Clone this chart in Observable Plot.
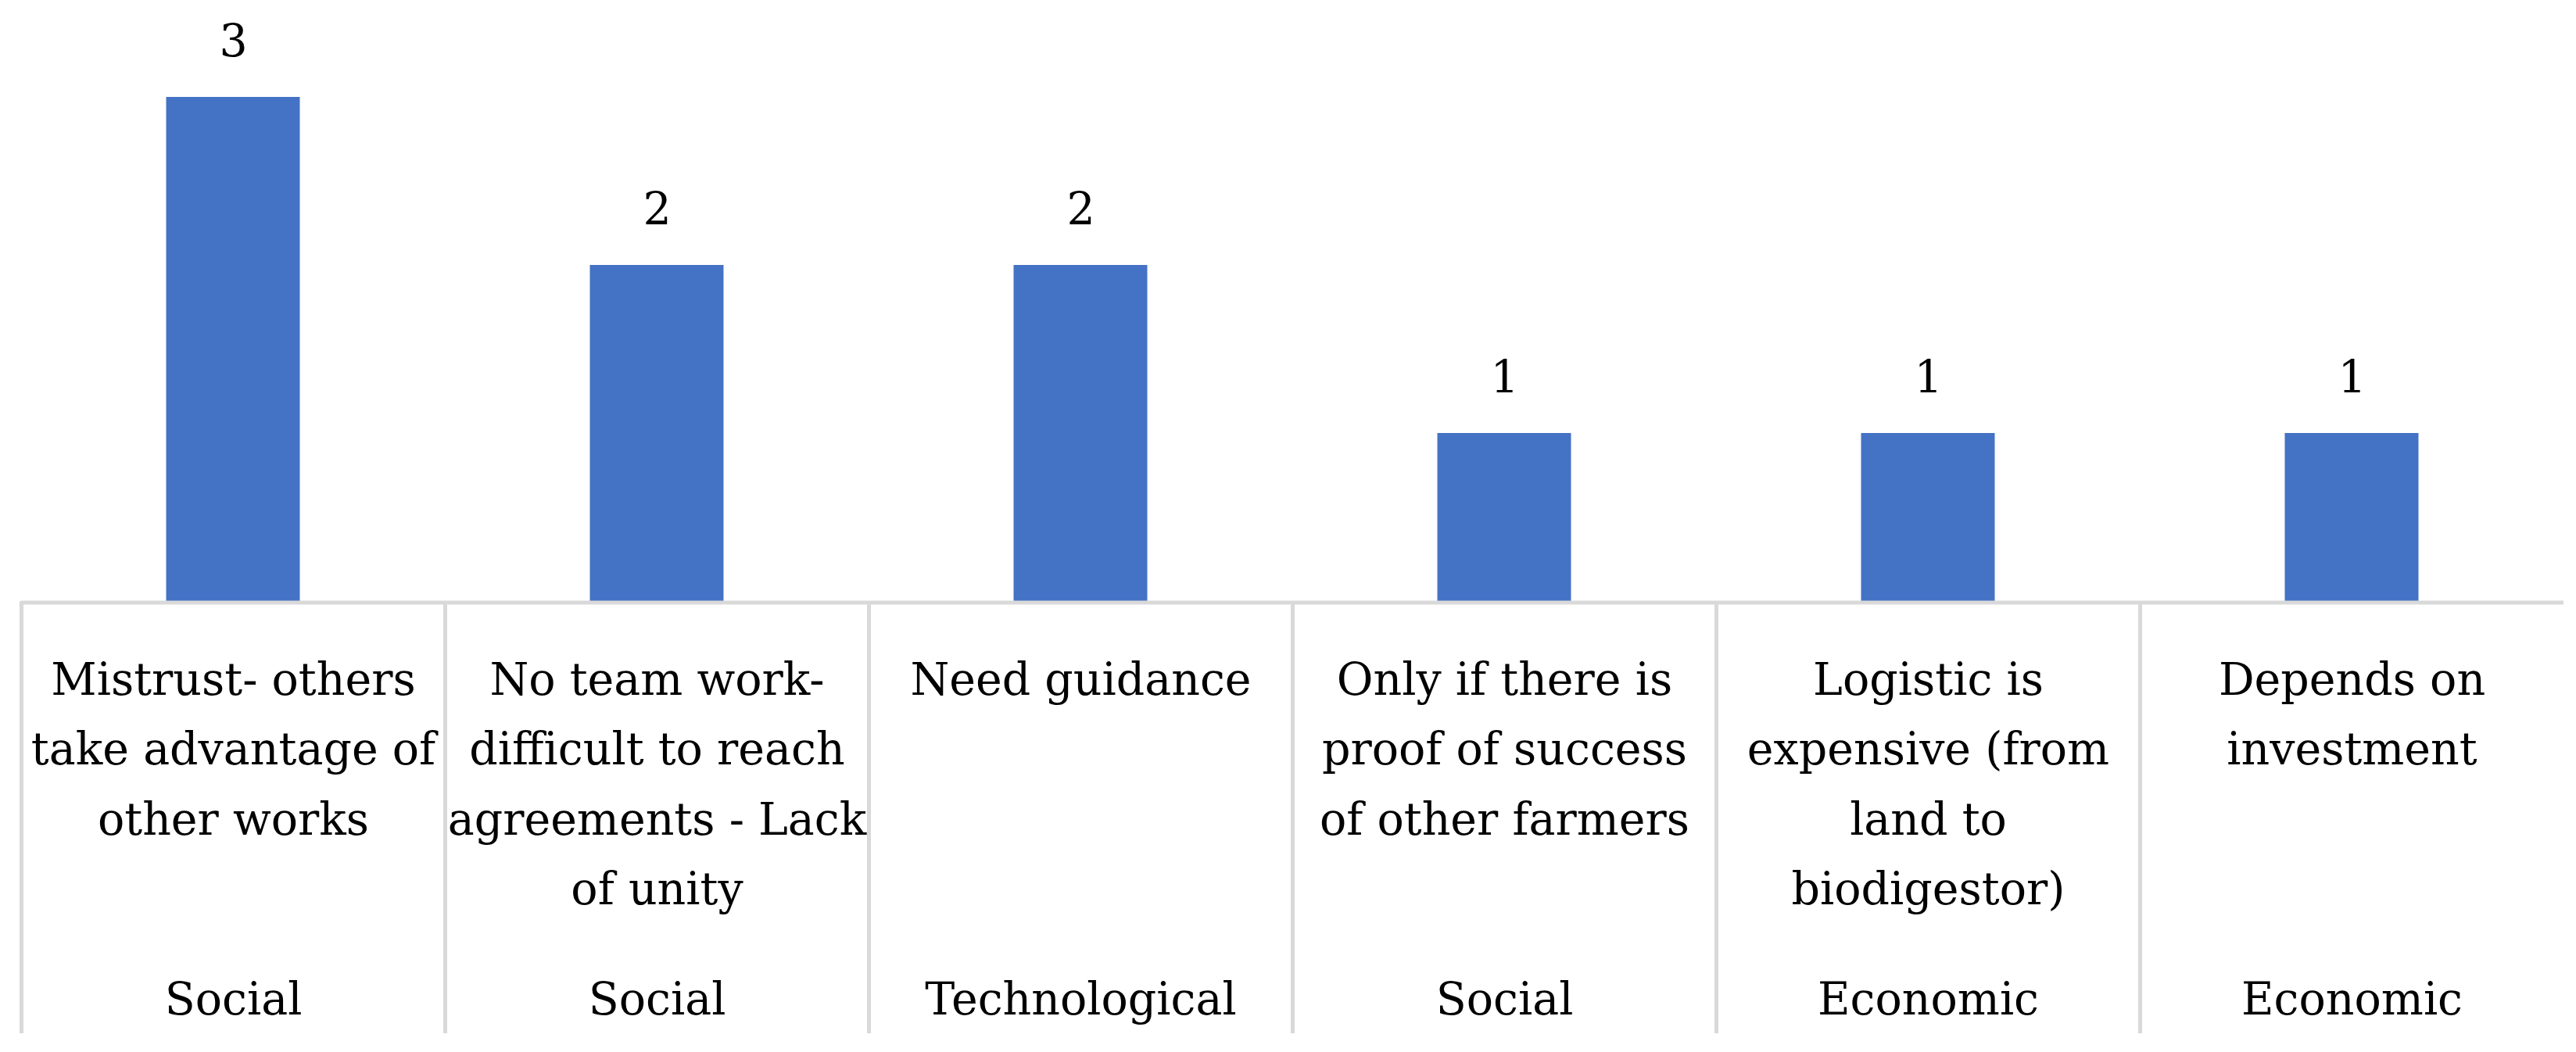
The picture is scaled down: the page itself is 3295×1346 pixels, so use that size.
<!DOCTYPE html>
<html>
<head>
<meta charset="utf-8">
<script src="https://cdn.jsdelivr.net/npm/d3@7"></script>
<script src="https://cdn.jsdelivr.net/npm/@observablehq/plot@0.6"></script>
<style>
  html, body { margin: 0; padding: 0; background: #ffffff; }
  svg { display: block; }
</style>
</head>
<body>
<div id="chart"></div>
<script>
// Categories (reasons), with the line breaks used in the picture
const categories = [
  "Mistrust- others\ntake advantage of\nother works",
  "No team work-\ndifficult to reach\nagreements - Lack\nof unity",
  "Need guidance",
  "Only if there is\nproof of success\nof other farmers",
  "Logistic is\nexpensive (from\nland to\nbiodigestor)",
  "Depends on\ninvestment"
];
// Counts
const counts = [3, 2, 2, 1, 1, 1];
// Outer category level
const dimensions = ["Social", "Social", "Technological", "Social", "Economic", "Economic"];

const data = categories.map((c, i) => ({category: c, count: counts[i], dimension: dimensions[i]}));

const W = 3295, H = 1346;
const mL = 27, mR = 16;
const band = (W - mL - mR) / categories.length;
const barW = 171;
const gridColor = "#d9d9d9";
const font = "DejaVu Serif";

const chart = Plot.plot({
  width: W,
  height: H,
  marginLeft: mL,
  marginRight: mR,
  marginTop: 0,
  marginBottom: 0,
  x: {domain: categories, padding: 0, axis: null},
  y: {domain: [0, 3], range: [769, 124], axis: null},
  style: {fontFamily: font, fontSize: "57px", background: "#ffffff", color: "#000000"},
  marks: [
    // category separators of the multi-level axis
    Plot.ruleX(data, {
      x: "category", y1: () => 0, y2: () => 0,
      dx: -band / 2, insetBottom: -553,
      stroke: gridColor, strokeWidth: 5
    }),
    // bars
    Plot.barY(data, {
      x: "category", y: "count",
      fill: "#4472C4",
      insetLeft: (band - barW) / 2, insetRight: (band - barW) / 2
    }),
    // baseline
    Plot.ruleY([0], {stroke: gridColor, strokeWidth: 5, dy: 1.5}),
    // value labels
    Plot.text(data, {
      x: "category", y: "count", text: d => String(d.count),
      dy: -71, lineAnchor: "middle", fill: "#000000",
      fontFamily: font, fontSize: 57
    }),
    // category labels
    Plot.text(data, {
      x: "category", y: () => 0, text: "category",
      lineAnchor: "top", lineHeight: 1.57, dy: 55.5,
      fill: "#000000", fontFamily: font, fontSize: 57
    }),
    // outer level labels
    Plot.text(data, {
      x: "category", y: () => 0, text: "dimension",
      lineAnchor: "middle", dy: 510,
      fill: "#000000", fontFamily: font, fontSize: 57
    })
  ]
});

document.getElementById("chart").appendChild(chart);
</script>
</body>
</html>
